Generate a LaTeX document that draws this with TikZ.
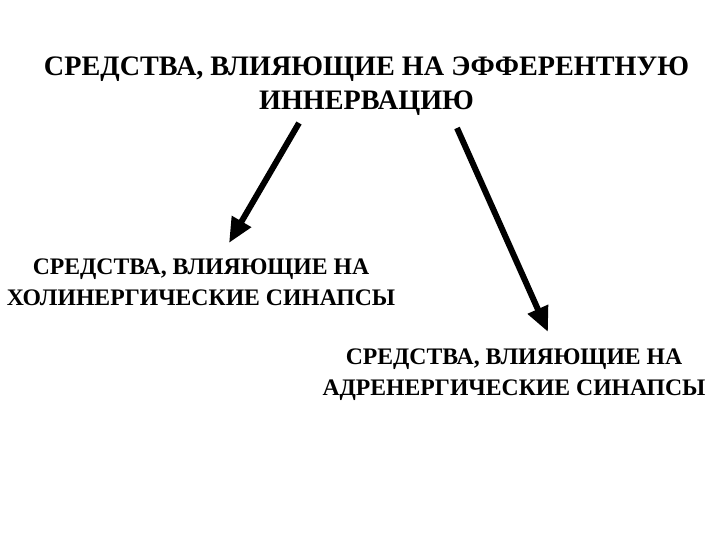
\documentclass[tikz,border=0pt]{standalone}
\usepackage{fontspec}
\setmainfont{Liberation Serif}
\usetikzlibrary{arrows.meta,positioning}

\tikzset{
  heading/.style={align=center, font=\fontsize{28.2}{34}\selectfont\bfseries},
  branch/.style={align=center, font=\fontsize{23.7}{31}\selectfont\bfseries},
  bigarrow/.style={line width=6pt, -{Triangle[length=25pt,width=21pt]}}
}

\begin{document}
\begin{tikzpicture}[x=1pt, y=-1pt]
    \useasboundingbox (0,0) rectangle (720,540);
    \node[heading] (title) at (366.5,86) {СРЕДСТВА, ВЛИЯЮЩИЕ НА ЭФФЕРЕНТНУЮ\\ИННЕРВАЦИЮ};
    \node[branch] (chol) at (201,282) {СРЕДСТВА, ВЛИЯЮЩИЕ НА\\ХОЛИНЕРГИЧЕСКИЕ СИНАПСЫ};
    \node[branch] (adren) at (514,375) {СРЕДСТВА, ВЛИЯЮЩИЕ НА\\АДРЕНЕРГИЧЕСКИЕ СИНАПСЫ};

    % arrow ends
    \coordinate (from1) at (299,123);
    \coordinate (to1) at (229,243);
    \coordinate (from2) at (457,128);
    \coordinate (to2) at (548,332);

    \draw[bigarrow] (from1) -- (to1);
    \draw[bigarrow] (from2) -- (to2);
\end{tikzpicture}
\end{document}
